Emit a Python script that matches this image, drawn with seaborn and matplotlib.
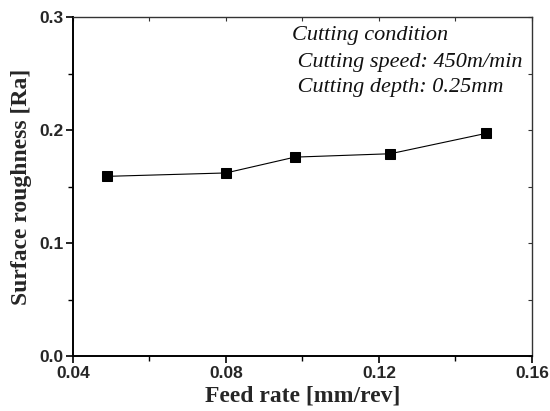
import matplotlib
matplotlib.use("Agg")
import matplotlib.pyplot as plt
import seaborn as sns
import pandas as pd
from matplotlib.ticker import MultipleLocator

feed_rate = [0.049, 0.080, 0.098, 0.123, 0.148]
roughness = [0.159, 0.162, 0.176, 0.179, 0.197]
x_ticks = [0.04, 0.08, 0.12, 0.16]
x_tick_labels = ["0.04", "0.08", "0.12", "0.16"]
y_ticks = [0.0, 0.1, 0.2, 0.3]
y_tick_labels = ["0.0", "0.1", "0.2", "0.3"]
annotation_lines = ["Cutting condition", " Cutting speed: 450m/min", " Cutting depth: 0.25mm"]

sns.set_style("ticks")
df = pd.DataFrame({"feed": feed_rate, "ra": roughness})

fig = plt.figure(figsize=(5.5, 4.11), dpi=100)
ax = fig.add_axes([0.1327, 0.1338, 0.8343, 0.8248])

sns.lineplot(data=df, x="feed", y="ra", ax=ax, color="black", linewidth=0.8,
             marker="s", markersize=6.5, markeredgecolor="black", markerfacecolor="black")

ax.set_xlim(0.04, 0.16)
ax.set_ylim(0.0, 0.3)
ax.set_xticks(x_ticks)
ax.set_xticklabels(x_tick_labels)
ax.set_yticks(y_ticks)
ax.set_yticklabels(y_tick_labels)
ax.xaxis.set_minor_locator(MultipleLocator(0.02))
ax.yaxis.set_minor_locator(MultipleLocator(0.05))

for lab in ax.get_xticklabels() + ax.get_yticklabels():
    lab.set_fontfamily("Liberation Sans")
    lab.set_fontweight("bold")
    lab.set_fontsize(12.5)

ax.tick_params(which="major", direction="out", length=5, width=1.2, color="black", pad=2)
ax.tick_params(which="minor", direction="out", length=3.5, width=1.0, color="black")

for side in ["left", "bottom"]:
    ax.spines[side].set_linewidth(1.4)
    ax.spines[side].set_color("black")
for side in ["top", "right"]:
    ax.spines[side].set_visible(True)
    ax.spines[side].set_linewidth(1.0)
    ax.spines[side].set_color("#333333")

top = ax.secondary_xaxis("top")
top.set_xticks(x_ticks)
top.xaxis.set_minor_locator(MultipleLocator(0.02))
top.tick_params(which="both", direction="in", length=3, width=0.8, labeltop=False, color="#333333")
top.spines["top"].set_visible(False)
right = ax.secondary_yaxis("right")
right.set_yticks(y_ticks)
right.yaxis.set_minor_locator(MultipleLocator(0.05))
right.tick_params(which="both", direction="in", length=3, width=0.8, labelright=False, color="#333333")
right.spines["right"].set_visible(False)

ax.set_xlabel("Feed rate [mm/rev]", fontfamily="Liberation Serif", fontweight="bold", fontsize=17)
ax.set_ylabel("Surface roughness [Ra]", fontfamily="Liberation Serif", fontweight="bold", fontsize=17)
ax.xaxis.set_label_coords(0.5, -0.088)
ax.yaxis.set_label_coords(-0.089, 0.5)

ys = [0.944, 0.867, 0.792]
for line, yy in zip(annotation_lines, ys):
    ax.text(0.478, yy, line, transform=ax.transAxes, fontfamily="Liberation Serif",
            fontstyle="italic", fontsize=16, va="center", ha="left", color="#111111")

fig.savefig("out.png", dpi=100)
